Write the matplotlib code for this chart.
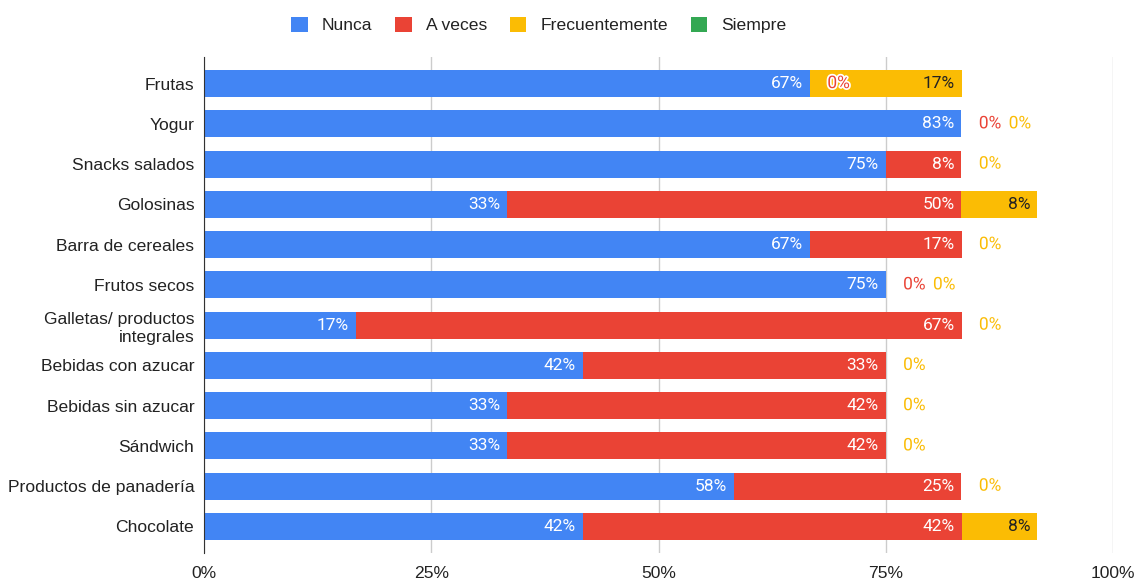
import numpy as np
import matplotlib.pyplot as plt
import matplotlib.patheffects as pe
from matplotlib.patches import Patch

plt.rcParams['font.family'] = ['Liberation Sans', 'DejaVu Sans']

# Alimentos (de arriba a abajo)
alimentos = ["Frutas", "Yogur", "Snacks salados", "Golosinas", "Barra de cereales",
             "Frutos secos", "Galletas/ productos\nintegrales", "Bebidas con azucar",
             "Bebidas sin azucar", "Sándwich", "Productos de panadería", "Chocolate"]

# Porcentaje de respuestas por frecuencia
nunca = [66.67, 83.33, 75.0, 33.33, 66.67, 75.0, 16.67, 41.67, 33.33, 33.33, 58.33, 41.67]
a_veces = [0.0, 0.0, 8.33, 50.0, 16.67, 0.0, 66.67, 33.33, 41.67, 41.67, 25.0, 41.67]
frecuentemente = [16.67, 0.0, 0.0, 8.33, 0.0, 0.0, 0.0, 0.0, 0.0, 0.0, 0.0, 8.33]
siempre = [0.0] * 12

series = ["Nunca", "A veces", "Frecuentemente", "Siempre"]
colores = ['#4285F4', '#EA4335', '#FBBC04', '#34A853']
color_texto = ['white', 'white', '#222222', 'white']
ticks = [0, 25, 50, 75, 100]

fig = plt.figure(figsize=(11.36, 5.81), dpi=100)
ax = fig.add_axes([204 / 1136, 1 - 553 / 581, (1113 - 204) / 1136, (553 - 57) / 581])

y = np.arange(len(alimentos))
valores = [nunca, a_veces, frecuentemente, siempre]
izquierda = np.zeros(len(alimentos))

# posicion de las etiquetas de segmentos vacios (para no encimarlas)
ceros_por_fila = {}

for s, (nombre, vals, col, ct) in enumerate(zip(series, valores, colores, color_texto)):
    vals = np.array(vals)
    ax.barh(y, vals, left=izquierda, height=0.67, color=col, label=nombre, zorder=2)
    if nombre != "Siempre":
        for i, v in enumerate(vals):
            fin = izquierda[i] + v
            txt = f"{round(v):.0f}%"
            if v > 0:
                ax.annotate(txt, (fin, y[i]), xytext=(-5, 0), textcoords='offset points',
                            ha='right', va='center', fontsize=12.5, color=ct, zorder=4,
                            family=['Roboto', 'DejaVu Sans'])
            else:
                k = ceros_por_fila.get(i, 0)
                ceros_por_fila[i] = k + 1
                ax.annotate(txt, (fin, y[i]), xytext=(12.5 + 21.5 * k, 0),
                            textcoords='offset points', ha='left', va='center',
                            fontsize=12.5, color=col, zorder=4,
                            family=['Roboto', 'DejaVu Sans'],
                            path_effects=[pe.withStroke(linewidth=2.5, foreground='white')])
    izquierda = izquierda + vals

ax.set_xlim(0, 100)
ax.set_ylim(len(alimentos) - 1 + 0.66, -0.66)
ax.set_yticks(y)
ax.set_yticklabels(alimentos, fontsize=12.6, color='#222222', linespacing=1.25)
ax.set_xticks(ticks)
ax.set_xticklabels([f"{t}%" for t in ticks], fontsize=12.6, color='#222222')
ax.tick_params(axis='y', length=0, pad=7)
ax.tick_params(axis='x', length=0, pad=9)

for lado in ['top', 'right', 'bottom']:
    ax.spines[lado].set_visible(False)
ax.spines['left'].set_color('#333333')
ax.spines['left'].set_zorder(5)
ax.grid(axis='x', color='#cccccc', linewidth=1, zorder=0)
ax.set_axisbelow(True)

handles = [Patch(facecolor=c, edgecolor='none') for c in colores]
fig.legend(handles, series, loc='center', bbox_to_anchor=(539 / 1136, 1 - 25 / 581),
           ncol=4, frameon=False, fontsize=12.6, handlelength=0.95, handleheight=0.95,
           handletextpad=0.8, columnspacing=1.3, labelcolor='#222222')

fig.savefig("out.png", dpi=100)
